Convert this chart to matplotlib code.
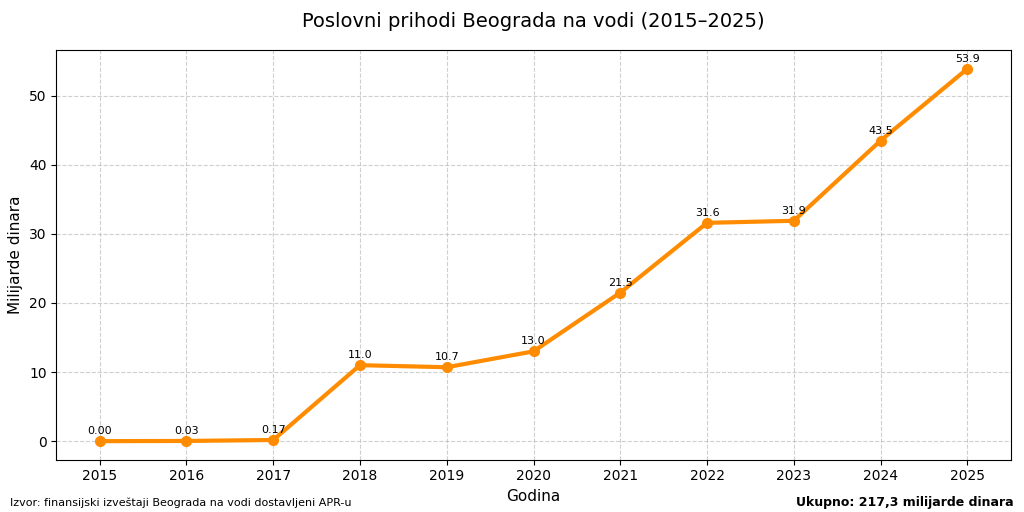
import matplotlib.pyplot as plt

# podaci
godine = [2015, 2016, 2017, 2018, 2019, 2020, 2021, 2022, 2023, 2024, 2025]
prihodi = [0.00, 0.03, 0.17, 11.0, 10.7, 13.0, 21.5, 31.6, 31.9, 43.5, 53.9]
oznake = ["0.00", "0.03", "0.17", "11.0", "10.7", "13.0", "21.5", "31.6", "31.9", "43.5", "53.9"]

fig, ax = plt.subplots(figsize=(10.24, 5.12), dpi=100)
ax.plot(godine, prihodi, color="darkorange", linewidth=3, marker="o", markersize=7)

for x, y, t in zip(godine, prihodi, oznake):
    ax.annotate(t, (x, y), textcoords="offset points", xytext=(0, 5),
                ha="center", fontsize=8)

ax.set_title("Poslovni prihodi Beograda na vodi (2015–2025)", fontsize=14, pad=17)
ax.set_xlabel("Godina", fontsize=11)
ax.set_ylabel("Milijarde dinara", fontsize=11)
ax.set_xticks(godine)
ax.grid(True, linestyle="--", alpha=0.6)

fig.text(0.01, 0.012, "Izvor: finansijski izveštaji Beograda na vodi dostavljeni APR-u", fontsize=8)
fig.text(0.99, 0.012, "Ukupno: 217,3 milijarde dinara", fontsize=9, fontweight="bold", ha="right")

fig.subplots_adjust(left=0.055, right=0.987, top=0.902, bottom=0.102)
plt.savefig("out.png")
